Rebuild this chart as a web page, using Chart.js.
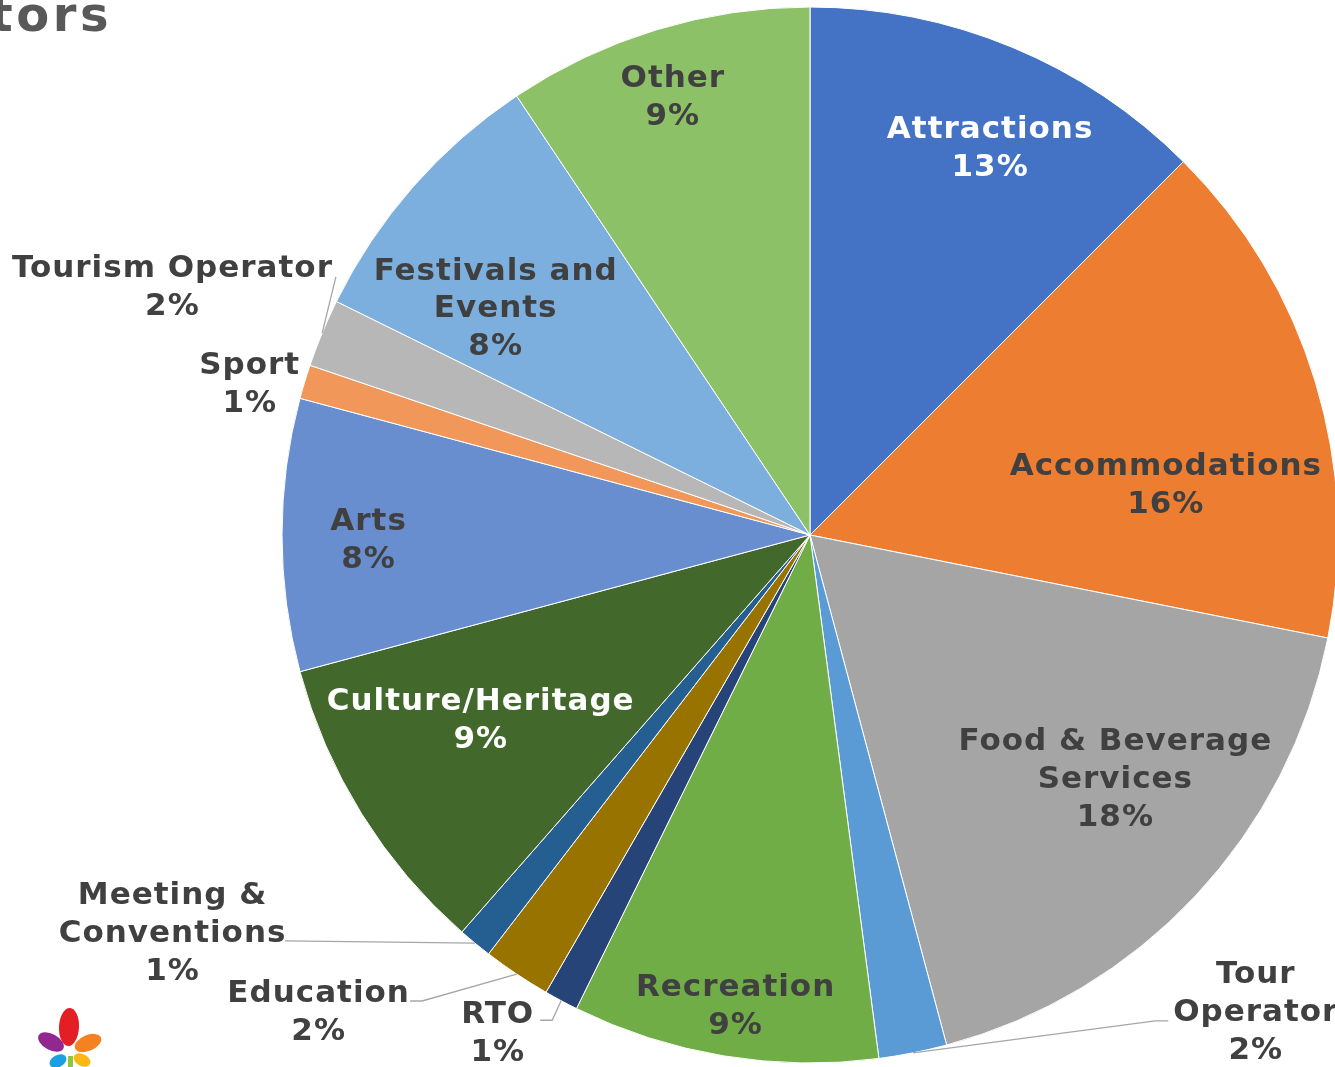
<!DOCTYPE html>
<html><head><meta charset="utf-8">
<script src="https://cdn.jsdelivr.net/npm/chart.js@4.4.1/dist/chart.umd.min.js"></script>
<style>
html,body{margin:0;padding:0;background:#fff;overflow:hidden;}
#wrap{width:1335px;height:1067px;overflow:hidden;position:relative;}
canvas{display:block;}
</style></head><body>
<div id="wrap"><canvas id="c" width="1345" height="1067" style="width:1345px;height:1067px"></canvas></div>
<script>
// ---- data ----
const titleText = "Respondents by Sectors";
const categories = ["Attractions","Accommodations","Food & Beverage Services","Tour Operator","Recreation","RTO","Education","Meeting & Conventions","Culture/Heritage","Arts","Sport","Tourism Operator","Festivals and Events","Other"];
const labelLines = [["Attractions"],["Accommodations"],["Food & Beverage","Services"],["Tour","Operator"],["Recreation"],["RTO"],["Education"],["Meeting &","Conventions"],["Culture/Heritage"],["Arts"],["Sport"],["Tourism Operator"],["Festivals and","Events"],["Other"]];
const counts = [12,15,17,2,9,1,2,1,9,8,1,2,8,9];
const colors = ["#4472C4","#ED7D31","#A5A5A5","#5B9BD5","#70AD47","#264478","#997300","#255E91","#43682B","#698ED0","#F1975A","#B7B7B7","#7CAFDD","#8CC168"];

// ---- label placement (style): angle offset from slice middle (deg), radius fraction, text colour, leader line [elbowDx, dy, endDx]
const placement = [
  {da: 2.3,  rf:0.811, c:"#FFFFFF"},
  {da: 8.6,  rf:0.680, c:"#404040"},
  {da:-4.7,  rf:0.737, c:"#404040"},
  {da:-31.9, rf:1.233, c:"#404040", line:[-100,11,-87]},
  {da:-0.3,  rf:0.900, c:"#404040"},
  {da: 4.1,  rf:1.111, c:"#404040", line:[55,-11,43]},
  {da: 12.25,rf:1.295, c:"#404040", line:[104,-9,92]},
  {da: 18.8, rf:1.422, c:"#404040", line:[113,10,113]},
  {da: 2.9,  rf:0.714, c:"#FFFFFF"},
  {da:-0.4,  rf:0.837, c:"#404040"},
  {da:-1.6,  rf:1.101, c:"#404040"},
  {da:-1.1,  rf:1.298, c:"#404040", line:[164,-8,164]},
  {da:-5.25, rf:0.737, c:"#404040"},
  {da:-0.5,  rf:0.873, c:"#404040"}
];
const total = counts.reduce((a,b)=>a+b,0);
const pctText = counts.map(v => Math.round(v/total*100) + "%");

const labelPlugin = {
  id:'sliceLabels',
  afterDatasetsDraw(chart){
    const ctx = chart.ctx;
    const meta = chart.getDatasetMeta(0);
    ctx.save();
    meta.data.forEach((arc,i)=>{
      const p = arc.getProps(['x','y','startAngle','endAngle','outerRadius'], true);
      const mid = (p.startAngle + p.endAngle)/2;
      const pl = placement[i];
      const a = mid + pl.da*Math.PI/180;
      const lx = p.x + Math.cos(a)*p.outerRadius*pl.rf;
      const ly = p.y + Math.sin(a)*p.outerRadius*pl.rf;
      if (pl.line){
        const ex = p.x + Math.cos(mid)*p.outerRadius;
        const ey = p.y + Math.sin(mid)*p.outerRadius;
        ctx.beginPath();
        ctx.strokeStyle = "#A6A6A6";
        ctx.lineWidth = 1.3;
        ctx.moveTo(ex, ey);
        ctx.lineTo(lx+pl.line[0], ly+pl.line[1]);
        ctx.lineTo(lx+pl.line[2], ly+pl.line[1]);
        ctx.stroke();
      }
      const lines = labelLines[i].concat([pctText[i]]);
      const lh = 37.8;
      ctx.font = "bold 31px 'DejaVu Sans'";
      ctx.letterSpacing = "1px";
      ctx.textAlign = "center";
      ctx.textBaseline = "middle";
      ctx.fillStyle = pl.c;
      lines.forEach((t,k)=>{
        ctx.fillText(t, lx + 0.5, ly + 3 + (k-(lines.length-1)/2)*lh);
      });
    });
    ctx.restore();
  },
  afterDraw(chart){
    const ctx = chart.ctx;
    ctx.save();
    // title (cut off at left edge)
    ctx.font = "bold 48px 'DejaVu Sans'";
    ctx.letterSpacing = "3.5px";
    ctx.fillStyle = "#595959";
    ctx.textAlign = "right";
    ctx.textBaseline = "alphabetic";
    ctx.fillText(titleText, 112, 31);
    ctx.letterSpacing = "0px";
    // logo
    const petal = (cx,cy,rx,ry,rot,col)=>{
      ctx.beginPath(); ctx.fillStyle=col;
      ctx.ellipse(cx,cy,rx,ry,rot,0,Math.PI*2); ctx.fill();
    };
    petal(69,1027,10,19,0.05,"#E31E24");
    petal(51,1042,14,8,0.5,"#92278F");
    petal(88,1043,14,8,-0.4,"#F58220");
    petal(58,1061,9,6,-0.5,"#1BA1E2");
    petal(82,1060,9,6,0.5,"#FDB913");
    ctx.fillStyle="#8DC63F"; ctx.fillRect(68,1056,5,11);
    ctx.restore();
  }
};

new Chart(document.getElementById('c'), {
  type:'pie',
  data:{
    labels: categories,
    datasets:[{
      data: counts,
      backgroundColor: colors,
      borderColor: "#FFFFFF",
      borderWidth: 1,
      radius: 528,
      clip: false
    }]
  },
  options:{
    responsive:false,
    devicePixelRatio:1,
    animation:false,
    events:[],
    layout:{padding:{left:282,right:7,top:7,bottom:4}},
    plugins:{legend:{display:false},tooltip:{enabled:false},title:{display:false}}
  },
  plugins:[labelPlugin]
});
</script>
</body></html>
